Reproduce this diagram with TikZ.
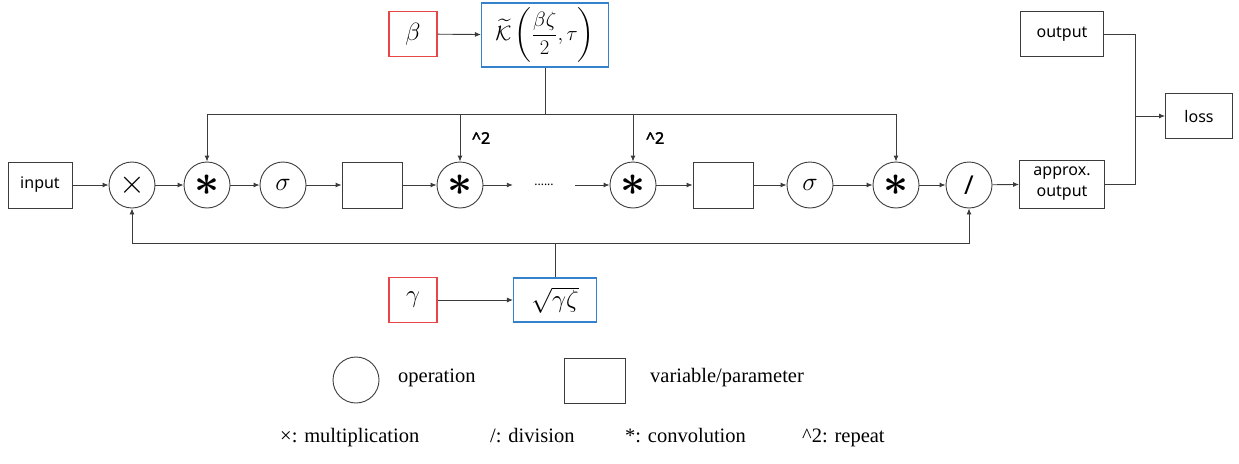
\documentclass[tikz,border=0pt]{standalone}
\usepackage{amsmath}
\usepackage{amssymb}
\usepackage{fontspec}
\setmainfont{Liberation Serif}
\setsansfont{Noto Sans}[AutoFakeBold=2.5]
\usetikzlibrary{arrows.meta,positioning}
\definecolor{nnred}{RGB}{232,70,70}
\definecolor{nnblue}{RGB}{52,130,204}
\definecolor{nngray}{RGB}{60,60,60}
\newcommand{\convsym}{\scalebox{2.1}{$\boldsymbol{\ast}$}}
\newcommand{\mulsym}{\scalebox{1.6}{$\times$}}
\newcommand{\sigsym}{\scalebox{1.25}{$\sigma$}}
\tikzset{arrow/.style={-{Latex[length=6pt,width=5pt]},color=nngray,line width=0.9pt}}

\begin{document}
\begin{tikzpicture}[x=1pt,y=-1pt,
    op/.style={circle, draw=nngray, line width=0.9pt, minimum size=46pt, inner sep=0pt, font=\fontsize{20}{20}\selectfont},
    var/.style={rectangle, draw=nngray, line width=0.9pt, minimum width=60pt, minimum height=46pt, inner sep=2pt, font=\fontsize{16}{21}\sffamily},
    param/.style={var, line width=1.1pt, font=\fontsize{24}{24}\selectfont},
    link/.style={color=nngray, line width=0.9pt},
    legend/.style={anchor=base west, inner sep=0pt, font=\fontsize{20.5}{24}\selectfont}]
\useasboundingbox (0,0) rectangle (1239,463);

% Main chain
\node[var, minimum width=64pt] (input) at (40,185) {input};
\node[op] (mul) at (132,185) {\mulsym};
\node[op] (conv1) at (207,185) {\convsym};
\node[op] (sig1) at (283,185) {\sigsym};
\node[var] (hid1) at (372,185) {};
\node[op] (conv2) at (460,185) {\convsym};
\node[minimum width=62pt, inner sep=0pt, font=\fontsize{12}{12}\sffamily] (dots) at (544,185) {......};
\node[op] (conv3) at (633,185) {\convsym};
\node[var] (hid2) at (723,185) {};
\node[op] (sig2) at (810,185) {\sigsym};
\node[op] (conv4) at (896,185) {\convsym};
\node[op, font=\fontsize{26}{26}\sffamily] (div) at (969,185) {/};
\node[var, minimum width=85pt, minimum height=48pt, align=center] (approx) at (1062,184) {approx.\\output};

% Loss
\node[var, minimum width=83pt, minimum height=45pt] (output) at (1062,34) {output};
\node[var, minimum width=67pt, minimum height=45pt] (loss) at (1199,116) {loss};

% Parameters
\node[param, draw=nnred, minimum width=48pt, minimum height=45pt] (beta) at (413,34) {$\beta$};
\node[param, draw=nnblue, minimum width=127pt, minimum height=64pt, inner sep=0pt, font=\fontsize{19}{19}\selectfont] (kern) at (545,35) {\scalebox{1.2}{$\widetilde{\mathcal{K}}\left(\dfrac{\beta\zeta}{2},\tau\right)$}};
\node[param, draw=nnred, minimum width=48pt, minimum height=45pt] (gamma) at (413,300) {$\gamma$};
\node[param, draw=nnblue, minimum width=83pt, minimum height=44pt] (sqrt) at (555,300) {$\sqrt{\gamma\zeta}$};

% Repeat labels
\node[font=\fontsize{16}{16}\sffamily\bfseries] (rep1) at (481,138) {\textasciicircum 2};
\node[font=\fontsize{16}{16}\sffamily\bfseries] (rep2) at (655,138) {\textasciicircum 2};

% Connections
\draw[arrow] (input) -- (mul);
\draw[arrow] (mul) -- (conv1);
\draw[arrow] (conv1) -- (sig1);
\draw[arrow] (sig1) -- (hid1);
\draw[arrow] (hid1) -- (conv2);
\draw[arrow] (conv2) -- (dots.west);
\draw[arrow] (dots.east) -- (conv3);
\draw[arrow] (conv3) -- (hid2);
\draw[arrow] (hid2) -- (sig2);
\draw[arrow] (sig2) -- (conv4);
\draw[arrow] (conv4) -- (div);
\draw[arrow] (div) -- (approx);

\draw[arrow] (beta) -- (kern);
\draw[arrow] (gamma) -- (sqrt);

% Kernel feed
\coordinate (ktop) at (545,114);
\draw[link] (kern) -- (ktop);
\draw[arrow] (ktop) -| (conv1);
\draw[arrow] (ktop) -| (conv2);
\draw[arrow] (ktop) -| (conv3);
\draw[arrow] (ktop) -| (conv4);

% Scale feed
\coordinate (sbot) at (555,243);
\draw[link] (sqrt) -- (sbot);
\draw[arrow] (sbot) -| (mul);
\draw[arrow] (sbot) -| (div);

% Loss feed
\coordinate (ljoin) at (1135,116);
\draw[link] (output) -| (ljoin);
\draw[link] (approx) -| (ljoin);
\draw[arrow] (ljoin) -- (loss);

% Legend
\node[op, minimum size=46pt] (legop) at (356,380) {};
\node[legend] (legoptext) at (398,382) {operation};
\node[var, minimum width=61pt, minimum height=45pt] (legvar) at (594.5,380.5) {};
\node[legend] (legvartext) at (650,382) {variable/parameter};
\node[legend] (keymul) at (280,442) {×: multiplication};
\node[legend] (keydiv) at (490,442) {/: division};
\node[legend] (keyconv) at (625,442) {*: convolution};
\node[legend] (keyrep) at (802,442) {\textasciicircum 2: repeat};
\end{tikzpicture}
\end{document}
